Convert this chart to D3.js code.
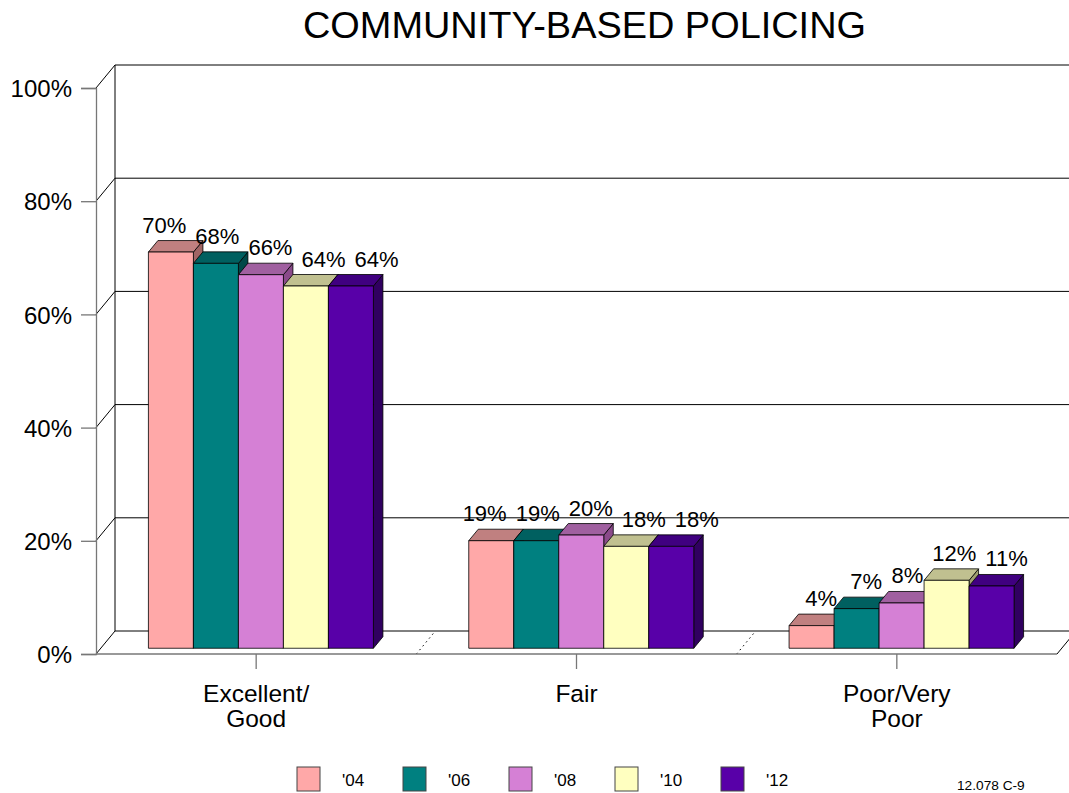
<!DOCTYPE html>
<html>
<head>
<meta charset="utf-8">
<script src="https://cdn.jsdelivr.net/npm/d3@7"></script>
<style>
  html, body { margin: 0; padding: 0; background: #fff; }
  svg { display: block; font-family: "Liberation Sans", Arial, sans-serif; }
</style>
</head>
<body>
<svg id="chart" width="1069" height="793"></svg>
<script>
// ---- data ----
const categories = ["Excellent/Good", "Fair", "Poor/Very Poor"];
const categoryLines = [["Excellent/", "Good"], ["Fair"], ["Poor/Very", "Poor"]];
const series = ["'04", "'06", "'08", "'10", "'12"];
const values04 = [70, 19, 4];
const values06 = [68, 19, 7];
const values08 = [66, 20, 8];
const values10 = [64, 18, 12];
const values12 = [64, 18, 11];
const yTicks = [0, 20, 40, 60, 80, 100];
const title = "COMMUNITY-BASED POLICING";
const footnote = "12.078 C-9";

const seriesValues = [values04, values06, values08, values10, values12];
const frontColors = ["#FFA8A8", "#008080", "#D580D5", "#FFFFC0", "#5800A8"];
const topColors   = ["#C08080", "#006060", "#A060A0", "#C0C090", "#400080"];
const sideColors  = ["#A06464", "#004848", "#8A4A8A", "#A0A070", "#300060"];

// ---- layout ----
const svg = d3.select("#chart");
const W = 1069, H = 793;
const DX = 19, DY = -23;          // full depth offset
const barD0 = 0.25, barD1 = 0.75; // bar depth range

const x = d3.scaleBand().domain(categories).range([96, 1057]).padding(0);
const y = d3.scaleLinear().domain([0, 100]).range([654, 88]);
const inner = d3.scaleBand().domain(series).range([-112.5, 112.5]).padding(0);

const P = (xf, v, d) => [xf + DX * d, y(v) + DY * d];
const poly = pts => "M" + pts.map(p => p.join(",")).join("L") + "Z";

// title
svg.append("text")
  .attr("x", 584.5).attr("y", 38)
  .attr("text-anchor", "middle")
  .attr("font-size", 36)
  .attr("textLength", 563).attr("lengthAdjust", "spacingAndGlyphs")
  .text(title);

const g = svg.append("g");

// back wall gridlines
yTicks.forEach(t => {
  const [bx, by] = P(x.range()[0], t, 1);
  g.append("line").attr("x1", bx).attr("y1", by).attr("x2", W + 20).attr("y2", by)
    .attr("stroke", "#000").attr("stroke-width", 1);
  const [fx, fy] = P(x.range()[0], t, 0);
  g.append("line").attr("x1", fx).attr("y1", fy).attr("x2", bx).attr("y2", by)
    .attr("stroke", "#000").attr("stroke-width", 1);
});
{
  const [bx0, by0] = P(x.range()[0], 0, 1);
  const [bx1, by1] = P(x.range()[0], 100, 1);
  g.append("line").attr("x1", bx0).attr("y1", by0).attr("x2", bx1).attr("y2", by1)
    .attr("stroke", "#000").attr("stroke-width", 1);
}
{
  const [fx, fy] = P(x.range()[1], 0, 0);
  const [bx, by] = P(x.range()[1], 0, 1);
  g.append("line").attr("x1", fx).attr("y1", fy).attr("x2", bx).attr("y2", by)
    .attr("stroke", "#000").attr("stroke-width", 1);
}
categories.slice(1).forEach(c => {
  const xf = x(c);
  const [fx, fy] = P(xf, 0, 0);
  const [bx, by] = P(xf, 0, 1);
  g.append("line").attr("x1", fx).attr("y1", fy).attr("x2", bx).attr("y2", by)
    .attr("stroke", "#000").attr("stroke-width", 1).attr("stroke-dasharray", "1.5,3.5");
});

// front axis
const yAxis = d3.axisLeft(y).tickValues(yTicks).tickSize(15).tickPadding(9)
  .tickFormat(d => d + "%");
const ya = svg.append("g").attr("transform", `translate(${x.range()[0]},0)`).call(yAxis);
ya.select(".domain").attr("stroke", "#777").attr("stroke-width", 1.3);
ya.selectAll(".tick line").attr("stroke", "#777").attr("stroke-width", 1.3);
ya.selectAll(".tick text").attr("font-size", 24).attr("fill", "#000")
  .attr("font-family", "Liberation Sans, Arial, sans-serif").attr("dy", "0.36em");

svg.append("line").attr("x1", x.range()[0]).attr("y1", y(0)).attr("x2", x.range()[1]).attr("y2", y(0))
  .attr("stroke", "#777").attr("stroke-width", 1.3);

categories.forEach((c, ci) => {
  const cx = x(c) + x.bandwidth() / 2;
  svg.append("line").attr("x1", cx).attr("y1", y(0)).attr("x2", cx).attr("y2", y(0) + 15)
    .attr("stroke", "#777").attr("stroke-width", 1.3);
  const t = svg.append("text").attr("text-anchor", "middle").attr("font-size", 24.5);
  categoryLines[ci].forEach((ln, li) => {
    t.append("tspan").attr("x", cx).attr("y", 702 + li * 24.5).text(ln);
  });
});

// bars
const bars = svg.append("g");
const labelLayer = svg.append("g");
const labelItems = [];
categories.forEach((c, ci) => {
  const cx = x(c) + x.bandwidth() / 2;
  const group = [];
  series.forEach((s, si) => {
    const v = seriesValues[si][ci];
    const x0 = cx + inner(s), x1 = x0 + inner.bandwidth();
    const front = [P(x0, 0, barD0), P(x1, 0, barD0), P(x1, v, barD0), P(x0, v, barD0)];
    const side = [P(x1, 0, barD0), P(x1, 0, barD1), P(x1, v, barD1), P(x1, v, barD0)];
    const top = [P(x0, v, barD0), P(x1, v, barD0), P(x1, v, barD1), P(x0, v, barD1)];
    bars.append("path").attr("d", poly(side)).attr("fill", sideColors[si])
      .attr("stroke", "#000").attr("stroke-width", 0.8).attr("stroke-linejoin", "round");
    bars.append("path").attr("d", poly(top)).attr("fill", topColors[si])
      .attr("stroke", "#000").attr("stroke-width", 0.8).attr("stroke-linejoin", "round");
    bars.append("path").attr("d", poly(front)).attr("fill", frontColors[si])
      .attr("stroke", "#000").attr("stroke-width", 0.8).attr("stroke-linejoin", "round");
    const backTop = P((x0 + x1) / 2, v, barD1);
    const label = v + "%";
    const node = labelLayer.append("text").attr("y", backTop[1] - 8)
      .attr("text-anchor", "middle").attr("font-size", 22).text(label);
    group.push({ ideal: backTop[0], node, w: node.node().getComputedTextLength() });
  });
  labelItems.push(group);
});

// spread labels horizontally to avoid overlap (cluster merge)
const GAP = 9;
labelItems.forEach(group => {
  let clusters = [];
  const fit = cl => {
    let off = 0; const offs = [0];
    for (let i = 1; i < cl.items.length; i++) {
      off += (cl.items[i - 1].w + cl.items[i].w) / 2 + GAP; offs.push(off);
    }
    cl.offs = offs;
    cl.p = d3.mean(cl.items, (d, i) => d.ideal - offs[i]);
    cl.left = cl.p - cl.items[0].w / 2;
    cl.right = cl.p + offs[offs.length - 1] + cl.items[cl.items.length - 1].w / 2;
  };
  group.forEach(it => {
    const nc = { items: [it] };
    fit(nc);
    clusters.push(nc);
    while (clusters.length > 1) {
      const a = clusters[clusters.length - 2], b = clusters[clusters.length - 1];
      if (a.right + GAP > b.left) {
        const m = { items: a.items.concat(b.items) };
        fit(m);
        clusters.splice(clusters.length - 2, 2, m);
      } else break;
    }
  });
  clusters.forEach(cl => cl.items.forEach((it, i) => { it.node.attr("x", cl.p + cl.offs[i]); }));
});

// legend
const leg = svg.append("g");
series.forEach((s, si) => {
  const lx = 297 + si * 106;
  leg.append("rect").attr("x", lx).attr("y", 767).attr("width", 23).attr("height", 24)
    .attr("fill", frontColors[si]).attr("stroke", "#444").attr("stroke-width", 1);
  leg.append("text").attr("x", lx + 45).attr("y", 786).attr("font-size", 17).text(s);
});

svg.append("text").attr("x", 957).attr("y", 790).attr("font-size", 13.7).text(footnote);
</script>
</body>
</html>
